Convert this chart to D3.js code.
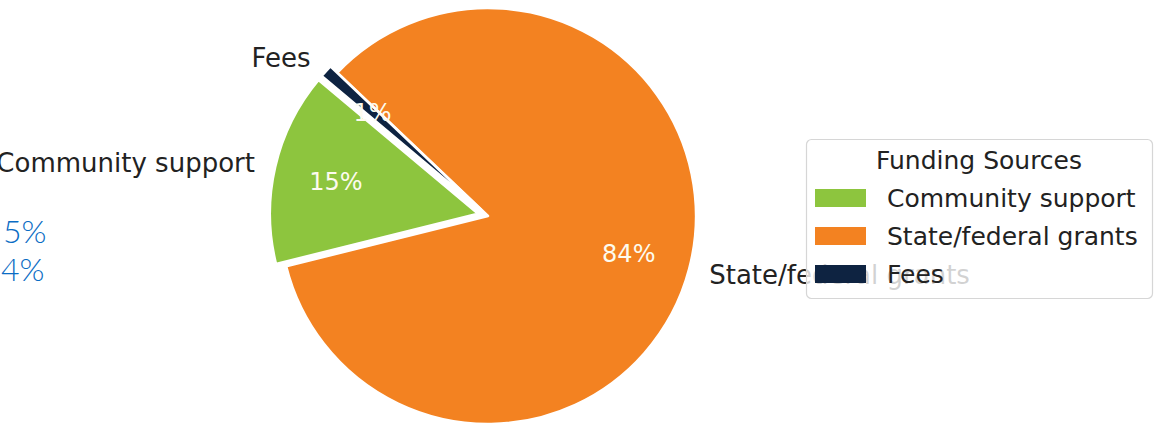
<!DOCTYPE html>
<html>
<head>
<meta charset="utf-8">
<script src="https://cdn.jsdelivr.net/npm/d3@7"></script>
<style>
  html, body { margin: 0; padding: 0; background: #fff; }
  svg { display: block; }
</style>
</head>
<body>
<svg id="chart" width="1160" height="428"></svg>
<script>
// ---- data ----
const categories = ["Community support", "State/federal grants", "Fees"];
const values = [15, 84, 1];
const explode = [0.05, 0, 0.045];
const colors = ["#8dc53e", "#f38221", "#0e2341"];
const legendTitle = "Funding Sources";
const strayLabels = ["5%", "4%"];

// ---- layout ----
const W = 1160, H = 428;
const cx = 488, cy = 216, R = 208;
const startDeg = 140; // matplotlib-style start angle (ccw from 3 o'clock)
const font = "'DejaVu Sans', sans-serif";

const svg = d3.select("#chart");

const toRad = d => d * Math.PI / 180;
const pie = d3.pie()
  .sort(null)
  .value(d => d)
  .startAngle(toRad(90 - startDeg))
  .endAngle(toRad(90 - startDeg - 360));

const arcs = pie(values);
const arcGen = d3.arc().innerRadius(0).outerRadius(R);

const total = d3.sum(values);
const pct = d3.format(".0f");

function dir(a) { return [Math.sin(a), -Math.cos(a)]; }

const g = svg.append("g");

arcs.forEach((a, i) => {
  const mid = (a.startAngle + a.endAngle) / 2;
  const [dx, dy] = dir(mid);
  const off = explode[i] * R;
  const ox = cx + dx * off, oy = cy + dy * off;

  g.append("path")
    .attr("d", arcGen(a))
    .attr("transform", `translate(${ox},${oy})`)
    .attr("fill", colors[i])
    .attr("stroke", "#ffffff")
    .attr("stroke-width", 2.5)
    .attr("stroke-linejoin", "round");

  const pr = 0.7 * R;
  g.append("text")
    .attr("x", ox + dx * pr)
    .attr("y", oy + dy * pr)
    .attr("text-anchor", "middle")
    .attr("dy", "0.36em")
    .attr("font-family", font)
    .attr("font-size", 24)
    .attr("fill", "#fdfbee")
    .text(pct(values[i] / total * 100) + "%");

  const lr = 1.1 * R;
  const lx = ox + dx * lr, ly = oy + dy * lr;
  g.append("text")
    .attr("x", lx)
    .attr("y", ly)
    .attr("text-anchor", lx > cx ? "start" : "end")
    .attr("dy", "0.36em")
    .attr("font-family", font)
    .attr("font-size", 26)
    .attr("fill", "#222")
    .text(categories[i]);
});

// stray text fragments at left edge
const stray = svg.append("g");
const strayPos = [[3, 243], [1, 281]];
strayLabels.forEach((t, i) => {
  stray.append("text")
    .attr("x", strayPos[i][0])
    .attr("y", strayPos[i][1])
    .attr("font-family", "Lato, 'Open Sans', sans-serif")
    .attr("font-weight", 300)
    .attr("font-size", 32)
    .attr("fill", "#0a6cc4")
    .text(t);
});

// ---- legend ----
const lg = svg.append("g");
const lx0 = 806, ly0 = 139, lw = 346, lh = 159;
lg.append("rect")
  .attr("x", lx0 + 0.5).attr("y", ly0 + 0.5)
  .attr("width", lw).attr("height", lh)
  .attr("rx", 5)
  .attr("fill", "rgba(255,255,255,0.8)")
  .attr("stroke", "#d6d6d6")
  .attr("stroke-width", 1.2);

lg.append("text")
  .attr("x", lx0 + lw / 2)
  .attr("y", 160)
  .attr("dy", "0.36em")
  .attr("text-anchor", "middle")
  .attr("font-family", font)
  .attr("font-size", 25)
  .attr("fill", "#222")
  .text(legendTitle);

const ly = d3.scalePoint().domain(categories).range([198, 274]);
categories.forEach((c, i) => {
  lg.append("rect")
    .attr("x", 815).attr("y", ly(c) - 9)
    .attr("width", 51).attr("height", 18)
    .attr("fill", colors[i]);
  lg.append("text")
    .attr("x", 887).attr("y", ly(c))
    .attr("dy", "0.36em")
    .attr("font-family", font)
    .attr("font-size", 25)
    .attr("fill", "#222")
    .text(c);
});
</script>
</body>
</html>
